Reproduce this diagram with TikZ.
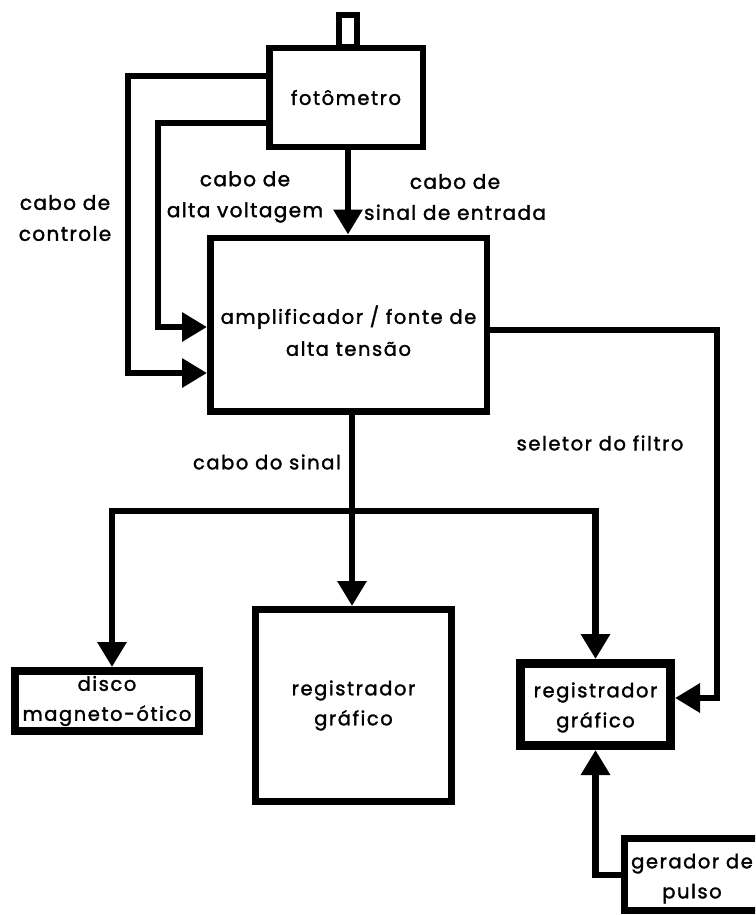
\documentclass[tikz,border=0pt]{standalone}
\usepackage{fontspec}
\setmainfont{Poppins}[LetterSpace=8,FakeBold=1.6]
\newfontfamily\labfont{Poppins}[LetterSpace=7,FakeBold=1.6]
\usetikzlibrary{arrows.meta}
\newcommand{\fs}{\fontsize{19.5}{30}\selectfont}
\newcommand{\fl}{\labfont\fontsize{20}{31}\selectfont}
\newcommand{\lowered}[2]{\raisebox{-#1}[0pt][0pt]{\begin{tabular}{@{}c@{}}#2\end{tabular}}}
\tikzset{
  box/.style={draw, line width=6.5pt, rectangle, inner sep=0pt, align=center, font=\fs},
  lbl/.style={inner sep=0pt, align=center, font=\fl},
  slbl/.style={inner sep=0pt, align=center, font=\fs},
  cable/.style={line width=6.5pt},
  arr/.style={cable, -{Triangle[length=25pt,width=28pt]}}
}
\begin{document}
\begin{tikzpicture}[x=1pt,y=-1pt]
\clip (0,0) rectangle (755,915);
\useasboundingbox (0,0) rectangle (755,915);
\fill[white] (0,0) rectangle (755,915);
% nodes
\node[box, minimum width=153.5pt, minimum height=98.5pt] (foto) at (346,97.5) {fot\^ometro};
\node[draw, line width=6pt, inner sep=0pt, minimum width=18pt, minimum height=32pt] (tab) at (348,31) {};
\node[box, minimum width=276.5pt, minimum height=173.5pt] (amp) at (348.5,324.5) {\lowered{14.5pt}{amplificador / fonte de\\[2pt]alta tens\~ao}};
\node[box, line width=8pt, minimum width=184pt, minimum height=60pt] (disco) at (107,701) {disco\\magneto-\'otico};
\node[box, line width=7pt, minimum width=196pt, minimum height=192pt] (reg1) at (353.5,705.5) {registrador\\gr\'afico};
\node[box, line width=9pt, minimum width=150pt, minimum height=82pt] (reg2) at (595.5,704.5) {\lowered{7pt}{registrador\\gr\'afico}};
\node[box, line width=7pt, minimum width=135pt, minimum height=72pt] (gen) at (692,874) {\lowered{8.5pt}{gerador de\\pulso}};
% labels
\node[lbl] (lctrl) at (65,218) {cabo de\\controle};
\node[lbl] (lhv) at (245,197) {cabo de\\alta voltagem};
\node[lbl] (lin) at (455,197) {cabo de\\sinal de entrada};
\node[slbl] (lsel) at (600,443) {seletor do filtro};
\node[slbl, anchor=east] (lsig) at (341,462) {cabo do sinal};
% connectors
\coordinate (sig) at (352,511);
\draw[arr] (foto.west |- 0,76) -- (128,76) -- (128,373) -- (amp.west |- 0,373);
\draw[arr] (foto.west |- 0,123) -- (158,123) -- (158,327) -- (amp.west |- 0,327);
\draw[arr] (foto.south -| 348,0) -- (amp.north -| 348,0);
\draw[arr] (amp.east |- 0,330) -- (717,330) -- (717,698) -- (reg2.east |- 0,698);
\draw[cable] (amp.south -| sig) -- (sig);
\draw[arr] (sig) -- (reg1.north -| sig);
\draw[arr] (sig) -- (112,511) -- (disco.north -| 112,0);
\draw[arr] (sig) -| (reg2.north);
\draw[arr] (gen.west |- 0,875) -| (reg2.south);
\end{tikzpicture}
\end{document}
